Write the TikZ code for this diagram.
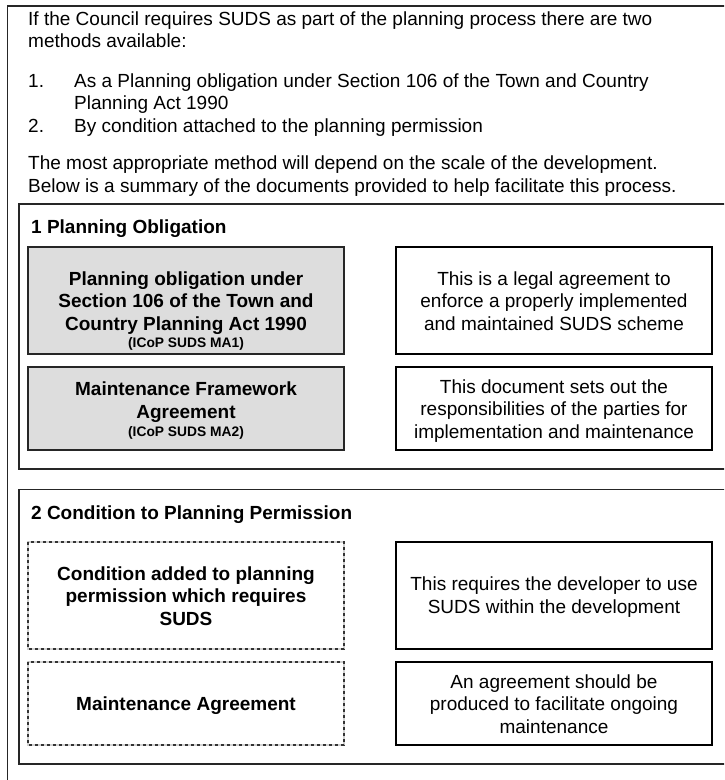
\documentclass[tikz,border=0pt]{standalone}
\usepackage{fontspec}
\setmainfont{Liberation Sans}
\usepackage{xcolor}
\usepackage{tikz}
\definecolor{obblock}{RGB}{221, 221, 221}
\definecolor{condback}{gray}{0.82}
\definecolor{condline}{gray}{0.20}
\definecolor{frameline}{gray}{0.15}

\tikzset{
	body/.style={font=\fontsize{19}{22.5}\selectfont, inner sep=0pt},
	bodybf/.style={font=\bfseries\fontsize{19}{22.5}\selectfont, inner sep=0pt},
	capt/.style={font=\bfseries\fontsize{13.8}{16}\selectfont, inner sep=0pt},
}

\begin{document}
\begin{tikzpicture}[x=1pt, y=-1pt]
			\useasboundingbox (0,0) rectangle (724,780);
			\clip (0,0) rectangle (724,780);
			\def\lx{28}
			\def\rx{396}
			\def\bw{316}
			\def\lc{186}
			\def\rc{554}

			% outer frame and the two sections
			\draw[frameline, line width=1.3pt] (7.5,6) rectangle (760,820);
			\draw[frameline, line width=1.4pt] (19,204) rectangle (760,469);
			\draw[frameline, line width=1.4pt] (19,489.5) rectangle (760,764);

			% Section 1 (obligation)
			\filldraw[fill=obblock, draw=frameline, line width=1.3pt] (\lx,247) rectangle (\lx+\bw,354);
			\filldraw[fill=obblock, draw=frameline, line width=1.3pt] (\lx,367) rectangle (\lx+\bw,450);
			\draw[black, line width=1.5pt] (\rx,247) rectangle (\rx+\bw,354);
			\draw[black, line width=1.5pt] (\rx,367) rectangle (\rx+\bw,450);
			% Section 2 (condition)
			\foreach \ya/\yb in {542/649, 662/745}{
				\draw[condback, line width=1.3pt] (\lx,\ya) rectangle (\lx+\bw,\yb);
				\draw[condline, line width=1.3pt, dash pattern=on 3.2pt off 2.8pt] (\lx,\ya) rectangle (\lx+\bw,\yb);
			}
			\draw[black, line width=1.5pt] (\rx,542) rectangle (\rx+\bw,649);
			\draw[black, line width=1.5pt] (\rx,662) rectangle (\rx+\bw,745);

			% introduction (base = last line)
			\node[body, anchor=base west, align=left] (intro) at (28,47.5) {If the Council requires SUDS as part of the planning process there are two\\methods available:};
			\node[body, anchor=base west] (num1) at (28,87) {1.};
			\node[body, anchor=base west, align=left] (item1) at (74,109.5) {As a Planning obligation under Section 106 of the Town and Country\\Planning Act 1990};
			\node[body, anchor=base west] (num2) at (28,132) {2.};
			\node[body, anchor=base west] (item2) at (74,132) {By condition attached to the planning permission};
			\node[body, anchor=base west, align=left] (summary) at (28,192) {The most appropriate method will depend on the scale of the development.\\Below is a summary of the documents provided to help facilitate this process.};

			\node[bodybf, anchor=base west] (sec1) at (31,233) {1 Planning Obligation};
			\node[bodybf, anchor=base west] (sec2) at (31,519) {2 Condition to Planning Permission};

			\node[bodybf, anchor=base, align=center] (ob1) at (\lc,330) {Planning obligation under\\Section 106 of the Town and\\Country Planning Act 1990};
			\node[capt, anchor=base] (ob1ref) at (\lc,347.5) {(ICoP SUDS MA1)};
			\node[bodybf, anchor=base, align=center] (ob2) at (\lc,418) {Maintenance Framework\\Agreement};
			\node[capt, anchor=base] (ob2ref) at (\lc,436.5) {(ICoP SUDS MA2)};
			\node[body, anchor=base, align=center] (ob1txt) at (\rc,330) {This is a legal agreement to\\enforce a properly implemented\\and maintained SUDS scheme};
			\node[body, anchor=base, align=center] (ob2txt) at (\rc,438) {This document sets out the\\responsibilities of the parties for\\implementation and maintenance};

			\node[bodybf, anchor=base, align=center] (cd1) at (\lc,625) {Condition added to planning\\permission which requires\\SUDS};
			\node[bodybf, anchor=base] (cd2) at (\lc,710.5) {Maintenance Agreement};
			\node[body, anchor=base, align=center] (cd1txt) at (\rc,613) {This requires the developer to use\\SUDS within the development};
			\node[body, anchor=base, align=center] (cd2txt) at (\rc,733) {An agreement should be\\produced to facilitate ongoing\\maintenance};

\end{tikzpicture}
\end{document}
